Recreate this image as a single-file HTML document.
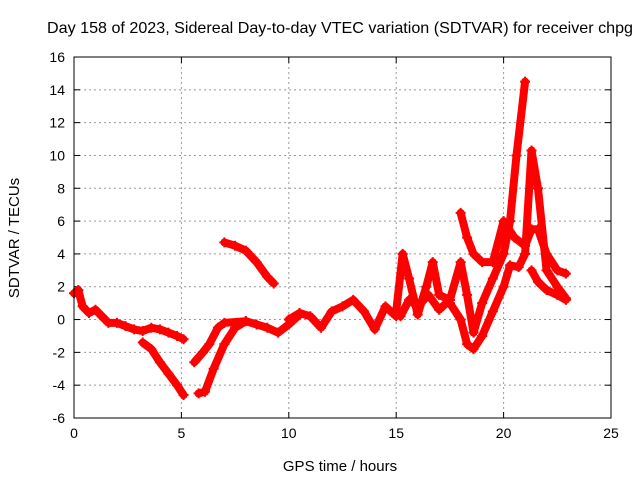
<!DOCTYPE html>
<html><head><meta charset="utf-8"><style>
html,body{margin:0;padding:0;background:#fff}
svg{display:block;font-family:"Liberation Sans",sans-serif}
</style></head><body>
<svg id="chart" width="640" height="480">
<text x="340" y="33" font-size="16" text-anchor="middle" textLength="586" lengthAdjust="spacingAndGlyphs">Day 158 of 2023, Sidereal Day-to-day VTEC variation (SDTVAR) for receiver chpg</text>
<text x="340" y="471" font-size="15" text-anchor="middle">GPS time / hours</text>
<text transform="translate(19,238) rotate(-90)" font-size="15" text-anchor="middle">SDTVAR / TECUs</text>
<g id="grid"></g><g id="ticks"></g><g id="marks"></g>
<rect x="74" y="57" width="537" height="361" fill="none" stroke="#000" stroke-width="1"/>
</svg>
<script>
const xTicks=[0,5,10,15,20,25];
const yTicks=[-6,-4,-2,0,2,4,6,8,10,12,14,16];
const s1t=[0,0.2,0.4,0.7,1,1.3,1.6,2,2.4,2.8,3.2,3.6,4,4.4,4.8,5.1];
const s1v=[1.6,1.8,0.8,0.4,0.6,0.2,-0.2,-0.2,-0.4,-0.6,-0.7,-0.5,-0.6,-0.8,-1.0,-1.2];
const s2t=[3.2,3.6,4,4.4,4.8,5.1];
const s2v=[-1.4,-1.8,-2.6,-3.3,-4,-4.6];
const s3t=[5.6,6,6.3,6.7,7,8,8.5,9,9.5,10,10.5];
const s3v=[-2.6,-2,-1.5,-0.5,-0.2,-0.1,-0.3,-0.5,-0.8,-0.3,0.3];
const s4t=[5.8,6.1,6.5,7,7.5,8];
const s4v=[-4.5,-4.4,-3.0,-1.5,-0.5,-0.1];
const s5t=[7,7.5,8,8.5,9,9.3];
const s5v=[4.7,4.5,4.2,3.5,2.6,2.2];
const s6t=[10,10.5,11,11.5,12,12.5,13,13.5,14,14.5,15];
const s6v=[0,0.4,0.2,-0.5,0.5,0.8,1.2,0.5,-0.6,0.8,0.2];
const s7t=[15,15.3,15.6,16,16.4,16.7,17,17.5,18,18.3,18.6,19,19.5,20,20.3,20.6,21];
const s7v=[0.5,4,2.5,0.3,2,3.5,1.5,1.2,3.5,1.5,-0.8,1,2.5,4,6,10,14.5];
const s8t=[18,18.3,18.6,19,19.5,20,20.5,21,21.3,21.6,22,22.5,22.9];
const s8v=[6.5,5,4,3.5,3.5,6,5,4.5,5.5,5.5,4,3,2.8];
const s9t=[17.5,18,18.3,18.6,19,19.5,20,20.3,20.7,21,21.3,21.6,22,22.5,22.9];
const s9v=[1,0,-1.5,-1.8,-1,0.5,2,3.3,3.2,4,10.3,8,3,2,1.3];
const s10t=[21.3,21.6,22,22.5,22.9];
const s10v=[3,2.3,1.8,1.5,1.2];
const s11t=[15.2,15.6,16,16.5,17,17.5];
const s11v=[0.2,1.2,0.8,1.5,0.6,1.2];
const series=[[s1t,s1v],[s2t,s2v],[s3t,s3v],[s4t,s4v],[s5t,s5v],[s6t,s6v],[s7t,s7v],[s8t,s8v],[s9t,s9v],[s10t,s10v],[s11t,s11v]];
const X0=74,X1=611,Y0=418,Y1=57;
const xs=t=>X0+(t-0)/25*(X1-X0);
const ys=v=>Y0-(v+6)/22*(Y0-Y1);
const NS="http://www.w3.org/2000/svg";
const grid=document.getElementById('grid'),ticks=document.getElementById('ticks'),marks=document.getElementById('marks');
function mk(tag,attrs,parent){const e=document.createElementNS(NS,tag);for(const k in attrs)e.setAttribute(k,attrs[k]);parent.appendChild(e);return e;}
xTicks.forEach(t=>{
 const x=xs(t);
 if(t>0&&t<25){const g=mk('line',{x1:x,x2:x,y1:Y1,y2:Y0,stroke:'#999','stroke-dasharray':'2,3'},grid);
 
 }
 mk('line',{x1:x,x2:x,y1:Y0,y2:Y0-6,stroke:'#000'},ticks);
 mk('line',{x1:x,x2:x,y1:Y1,y2:Y1+6,stroke:'#000'},ticks);
 const l=mk('text',{x:x,y:Y0+20,'font-size':14,'text-anchor':'middle'},ticks);l.textContent=t;
 
 
});
yTicks.forEach(v=>{
 const y=ys(v);
 if(v>-6&&v<16){const g=mk('line',{x1:X0,x2:X1,y1:y,y2:y,stroke:'#999','stroke-dasharray':'2,3'},grid);
 
 }
 mk('line',{x1:X0,x2:X0+6,y1:y,y2:y,stroke:'#000'},ticks);
 mk('line',{x1:X1,x2:X1-6,y1:y,y2:y,stroke:'#000'},ticks);
 const l=mk('text',{x:X0-9,y:y+5,'font-size':14,'text-anchor':'end'},ticks);l.textContent=v;
 
 
});
series.forEach((s,i)=>{
 const pts=s[0].map((t,j)=>xs(t)+','+ys(s[1][j])).join(' ');
 const p=mk('polyline',{points:pts,fill:'none',stroke:'#f00','stroke-width':8,'stroke-linejoin':'round','stroke-linecap':'round'},marks);
 
 
 s[0].forEach((t,j)=>{
  const x=xs(t),y=ys(s[1][j]);
  const m=mk('path',{d:`M${x-5},${y}h10M${x},${y-5}v10`,stroke:'#f00','stroke-width':2},marks);
  
  
 });
});
</script>
</body></html>
